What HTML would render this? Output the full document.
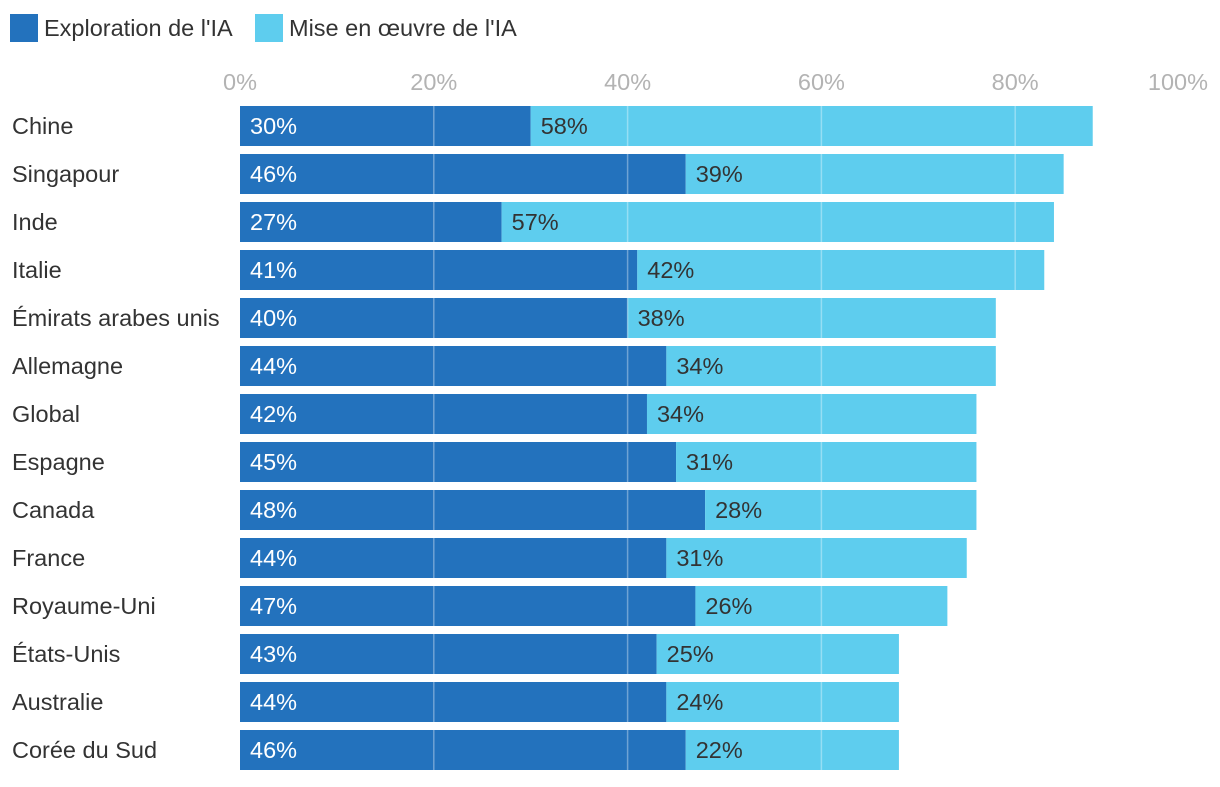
<!DOCTYPE html>
<html><head><meta charset="utf-8">
<style>
html,body{margin:0;padding:0;background:#fff;}
body{width:1220px;height:782px;overflow:hidden;font-family:"Liberation Sans",sans-serif;}
</style></head>
<body>
<svg id="chart" width="1220" height="782" xmlns="http://www.w3.org/2000/svg" font-family="Liberation Sans, sans-serif">
  <g>
    <rect x="10" y="14" width="28" height="28" fill="#2372BD"/>
    <text x="44" y="36" font-size="23.5" fill="#333">Exploration de l'IA</text>
    <rect x="255" y="14" width="28" height="28" fill="#5ECDEE"/>
    <text x="289" y="36" font-size="23.5" fill="#333">Mise en œuvre de l'IA</text>
  </g>
  <g id="ticks"></g>
  <g id="bars"></g>
  <g id="grid"></g>
  <g id="labels"></g>
</svg>
<script>
const categories = ["Chine","Singapour","Inde","Italie","Émirats arabes unis","Allemagne","Global","Espagne","Canada","France","Royaume-Uni","États-Unis","Australie","Corée du Sud"];
const exploration = [30,46,27,41,40,44,42,45,48,44,47,43,44,46];
const implementation = [58,39,57,42,38,34,34,31,28,31,26,25,24,22];
const tickValues = [0,20,40,60,80,100];

const NS = "http://www.w3.org/2000/svg";
const x0 = 240, x100 = 1209;
const xs = v => x0 + (x100 - x0) * v / 100;
const rowTop = i => 106 + i * 48;
const barH = 40;
const FS = 23.5;

function mk(tag, attrs, parent, text) {
  const el = document.createElementNS(NS, tag);
  for (const k in attrs) el.setAttribute(k, attrs[k]);
  if (text !== undefined) el.textContent = text;
  parent.appendChild(el);
  return el;
}
const ticksG = document.getElementById('ticks');
const barsG = document.getElementById('bars');
const gridG = document.getElementById('grid');
const labG = document.getElementById('labels');

tickValues.forEach((t, k) => {
  const last = k === tickValues.length - 1;
  const tx = mk('text', {x: last ? 1208 : xs(t), y: 90, 'font-size': FS, fill: '#b3b3b3', 'text-anchor': last ? 'end' : 'middle'}, ticksG, t + '%');
  
  
  if (t > 0 && t < 100) {
    const ln = mk('line', {x1: xs(t), x2: xs(t), y1: 104, y2: 772, stroke: '#ffffff', 'stroke-opacity': 0.35, 'stroke-width': 1.5}, gridG);
    
    
  }
});

categories.forEach((c, i) => {
  const y = rowTop(i);
  const e = exploration[i], m = implementation[i];
  const cl = mk('text', {x: 12, y: y + 28, 'font-size': FS, fill: '#333'}, labG, c);
  
  
  const b1 = mk('rect', {x: xs(0), y: y, width: xs(e) - xs(0), height: barH, fill: '#2372BD'}, barsG);
  
  
  const b2 = mk('rect', {x: xs(e), y: y, width: xs(e + m) - xs(e), height: barH, fill: '#5ECDEE'}, barsG);
  
  
  const v1 = mk('text', {x: xs(0) + 10, y: y + 28, 'font-size': FS, fill: '#fff'}, labG, e + '%');
  
  
  const v2 = mk('text', {x: xs(e) + 10, y: y + 28, 'font-size': FS, fill: '#333'}, labG, m + '%');
  
  
});
</script>
</body></html>
